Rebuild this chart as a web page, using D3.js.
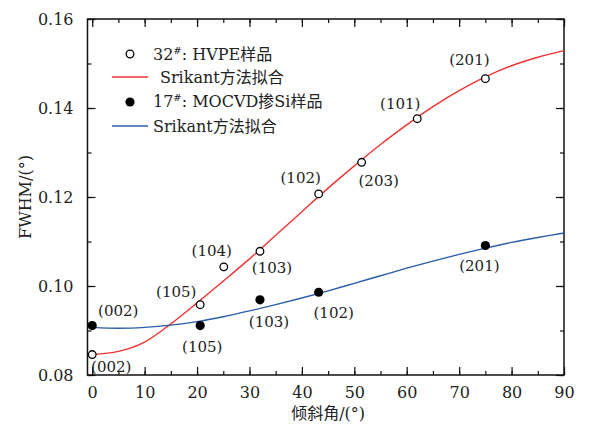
<!DOCTYPE html>
<html>
<head>
<meta charset="utf-8">
<script src="https://cdn.jsdelivr.net/npm/d3@7"></script>
<style>
  body { margin: 0; background: #fff; }
  text { font-family: "DejaVu Serif", "Noto Sans CJK SC", serif; fill: #222; }
</style>
</head>
<body>
<div id="chart"></div>
<script>
// measured points: tilt angle (deg) and FWHM (deg)
var hvpeAngles = [0, 20.6, 25.1, 32.0, 43.2, 51.4, 62.0, 75.0];
var hvpeFwhm = [0.0846, 0.0958, 0.1043, 0.1078, 0.1207, 0.1278, 0.1376, 0.1466];
var hvpeLabels = ["(002)", "(105)", "(104)", "(103)", "(102)", "(203)", "(101)", "(201)"];

var mocvdAngles = [0, 20.6, 32.0, 43.2, 75.0];
var mocvdFwhm = [0.0911, 0.0911, 0.0969, 0.0986, 0.1091];
var mocvdLabels = ["(002)", "(105)", "(103)", "(102)", "(201)"];

// Srikant fit curves
var fitAngles = [0, 5, 10, 15, 20, 25, 30, 35, 40, 45, 50, 55, 60, 65, 70, 75, 80, 85, 90];
var hvpeFit = [0.0846, 0.0853, 0.0874, 0.0915, 0.0962, 0.1011, 0.1061, 0.1114, 0.1167, 0.1220,
               0.1270, 0.1318, 0.1362, 0.1403, 0.1439, 0.1470, 0.1495, 0.1514, 0.1529];
var mocvdFit = [0.0907, 0.0905, 0.0907, 0.0912, 0.0920, 0.0931, 0.0944, 0.0958, 0.0973, 0.0989,
                0.1006, 0.1023, 0.1040, 0.1056, 0.1071, 0.1085, 0.1098, 0.1109, 0.1119];

var xTicks = [0, 10, 20, 30, 40, 50, 60, 70, 80, 90];
var yTicks = [0.08, 0.10, 0.12, 0.14, 0.16];

var redColor = "#f03232";
var blueColor = "#2a5caa";

var width = 598, height = 430;
var margin = { top: 19, right: 34, bottom: 55, left: 87.5 };
var w = width - margin.left - margin.right;
var h = height - margin.top - margin.bottom;

var svg = d3.select("#chart").append("svg")
    .attr("width", width)
    .attr("height", height);

var g = svg.append("g")
    .attr("transform", "translate(" + margin.left + "," + margin.top + ")");

var x = d3.scaleLinear().domain([-0.9, 90]).range([0, w]);
var y = d3.scaleLinear().domain([0.08, 0.16]).range([h, 0]);

var minorX = d3.range(0, 91, 5);
var minorY = d3.range(0.08, 0.1601, 0.01);

function styleAxis(sel) {
    sel.select(".domain").remove();
    sel.selectAll("line").attr("stroke", "#111").attr("stroke-width", 1.2);
    sel.selectAll("text").style("font-size", "16px");
}

// bottom
g.append("g").attr("transform", "translate(0," + h + ")")
    .call(d3.axisBottom(x).tickValues(minorX).tickSize(-4).tickFormat(""))
    .call(styleAxis);
g.append("g").attr("transform", "translate(0," + h + ")")
    .call(d3.axisBottom(x).tickValues(xTicks).tickSize(-8).tickPadding(12).tickFormat(d3.format("d")))
    .call(styleAxis);
// top
g.append("g")
    .call(d3.axisTop(x).tickValues(minorX).tickSize(-4).tickFormat(""))
    .call(styleAxis);
g.append("g")
    .call(d3.axisTop(x).tickValues(xTicks).tickSize(-8).tickFormat(""))
    .call(styleAxis);
// left
g.append("g")
    .call(d3.axisLeft(y).tickValues(minorY).tickSize(-4).tickFormat(""))
    .call(styleAxis);
g.append("g")
    .call(d3.axisLeft(y).tickValues(yTicks).tickSize(-8).tickPadding(14).tickFormat(d3.format(".2f")))
    .call(styleAxis);
// right
g.append("g").attr("transform", "translate(" + w + ",0)")
    .call(d3.axisRight(y).tickValues(minorY).tickSize(-4).tickFormat(""))
    .call(styleAxis);
g.append("g").attr("transform", "translate(" + w + ",0)")
    .call(d3.axisRight(y).tickValues(yTicks).tickSize(-8).tickFormat(""))
    .call(styleAxis);

// frame
g.append("rect")
    .attr("width", w).attr("height", h)
    .attr("fill", "none").attr("stroke", "#111").attr("stroke-width", 1.5);

// fit curves
var line = d3.line()
    .x(function (d) { return x(d[0]); })
    .y(function (d) { return y(d[1]); })
    .curve(d3.curveCatmullRom);

g.append("path")
    .datum(d3.zip(fitAngles, hvpeFit))
    .attr("d", line)
    .attr("fill", "none").attr("stroke", redColor).attr("stroke-width", 1.4);

g.append("path")
    .datum(d3.zip(fitAngles, mocvdFit))
    .attr("d", line)
    .attr("fill", "none").attr("stroke", blueColor).attr("stroke-width", 1.4);

// points
g.selectAll(".hvpe")
    .data(d3.zip(hvpeAngles, hvpeFwhm))
    .enter().append("circle")
    .attr("class", "hvpe")
    .attr("cx", function (d) { return x(d[0]); })
    .attr("cy", function (d) { return y(d[1]); })
    .attr("r", 3.8)
    .attr("fill", "#fff").attr("stroke", "#000").attr("stroke-width", 1.3);

g.selectAll(".mocvd")
    .data(d3.zip(mocvdAngles, mocvdFwhm))
    .enter().append("circle")
    .attr("class", "mocvd")
    .attr("cx", function (d) { return x(d[0]); })
    .attr("cy", function (d) { return y(d[1]); })
    .attr("r", 4.6)
    .attr("fill", "#000");

// index labels, offset from their point (dx, dy in px)
var hvpeOffsets = [[19, 12], [-24, -13], [-12, -16], [12, 17], [-18, -16], [17, 19], [-17, -15], [-16, -19]];
var mocvdOffsets = [[26, -15], [2, 21], [9, 22], [15, 21], [-6, 20]];

function addLabels(angles, vals, labels, offsets) {
    g.selectAll(null)
        .data(labels)
        .enter().append("text")
        .attr("x", function (d, i) { return x(angles[i]) + offsets[i][0]; })
        .attr("y", function (d, i) { return y(vals[i]) + offsets[i][1]; })
        .attr("text-anchor", "middle")
        .attr("dominant-baseline", "central")
        .style("font-size", "15px")
        .text(function (d) { return d; });
}
addLabels(hvpeAngles, hvpeFwhm, hvpeLabels, hvpeOffsets);
addLabels(mocvdAngles, mocvdFwhm, mocvdLabels, mocvdOffsets);

// legend
var lg = svg.append("g");
lg.append("circle").attr("cx", 130).attr("cy", 54).attr("r", 3.8)
    .attr("fill", "#fff").attr("stroke", "#000").attr("stroke-width", 1.3);
var t1 = lg.append("text").attr("x", 153).attr("y", 60).style("font-size", "16px");
t1.append("tspan").text("32");
t1.append("tspan").attr("dy", -6).style("font-size", "10px").text("#");
t1.append("tspan").attr("dy", 6).text(": HVPE样品");

lg.append("line").attr("x1", 112).attr("x2", 148).attr("y1", 77).attr("y2", 77)
    .attr("stroke", redColor).attr("stroke-width", 1.4);
lg.append("text").attr("x", 160).attr("y", 83).style("font-size", "16px").text("Srikant方法拟合");

lg.append("circle").attr("cx", 130).attr("cy", 102).attr("r", 4.6).attr("fill", "#000");
var t2 = lg.append("text").attr("x", 153).attr("y", 107).style("font-size", "16px");
t2.append("tspan").text("17");
t2.append("tspan").attr("dy", -6).style("font-size", "10px").text("#");
t2.append("tspan").attr("dy", 6).text(": MOCVD掺Si样品");

lg.append("line").attr("x1", 112).attr("x2", 148).attr("y1", 126).attr("y2", 126)
    .attr("stroke", blueColor).attr("stroke-width", 1.4);
lg.append("text").attr("x", 153).attr("y", 132).style("font-size", "16px").text("Srikant方法拟合");

// axis titles
svg.append("text")
    .attr("x", margin.left + x(45)).attr("y", 419)
    .attr("text-anchor", "middle")
    .style("font-size", "16px")
    .text("倾斜角/(°)");

svg.append("text")
    .attr("transform", "translate(31," + (margin.top + h / 2) + ") rotate(-90)")
    .attr("text-anchor", "middle")
    .style("font-size", "16px")
    .text("FWHM/(°)");
</script>
</body>
</html>
